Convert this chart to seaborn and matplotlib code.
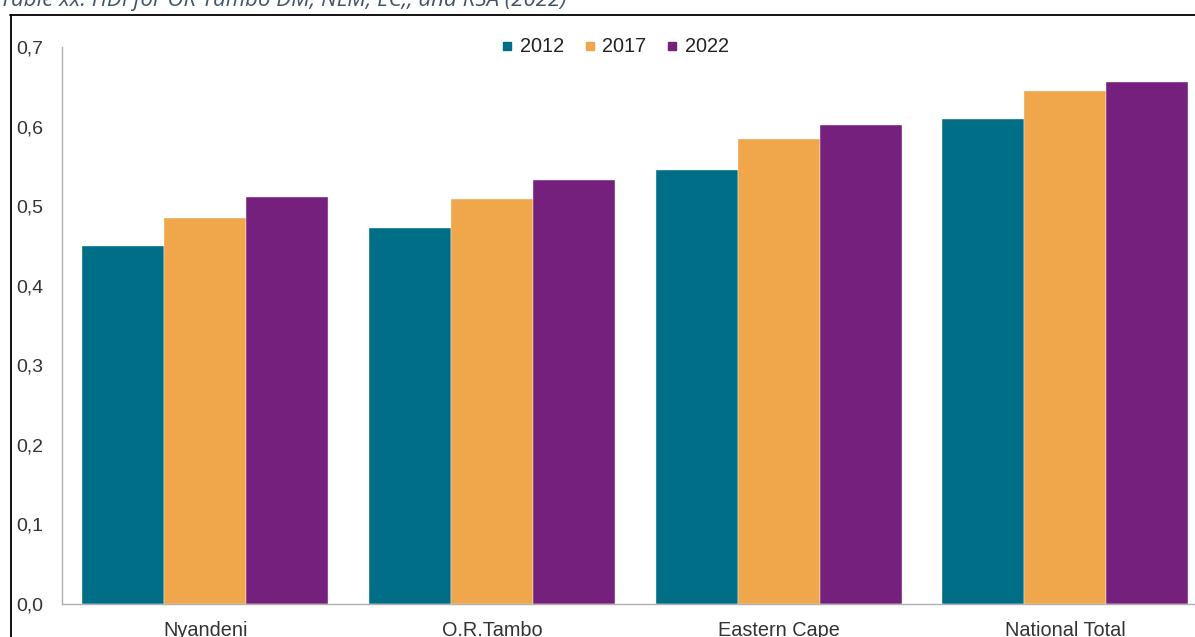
import matplotlib
matplotlib.use("Agg")
import matplotlib.pyplot as plt
from matplotlib.lines import Line2D
import seaborn as sns
import pandas as pd

# HDI values by area and year
areas = ["Nyandeni", "O.R.Tambo", "Eastern Cape", "National Total"]
years = ["2012", "2017", "2022"]
hdi_2012 = [0.450, 0.472, 0.546, 0.610]
hdi_2017 = [0.485, 0.509, 0.584, 0.645]
hdi_2022 = [0.511, 0.533, 0.602, 0.656]
y_ticks = [0.0, 0.1, 0.2, 0.3, 0.4, 0.5, 0.6, 0.7]
y_tick_labels = ["0,0", "0,1", "0,2", "0,3", "0,4", "0,5", "0,6", "0,7"]
title = "Table xx: HDI for OR Tambo DM, NLM, EC,, and RSA (2022)"

colors = ["#006E87", "#F0A64A", "#76207D"]

df = pd.DataFrame({
    "area": areas * 3,
    "year": [years[0]] * 4 + [years[1]] * 4 + [years[2]] * 4,
    "hdi": hdi_2012 + hdi_2017 + hdi_2022,
})

sns.set_theme(style="white")
plt.rcParams["font.family"] = ["Liberation Sans", "DejaVu Sans"]

W, H = 1195, 637
fig = plt.figure(figsize=(W / 100, H / 100), dpi=100)
ax = fig.add_axes([62 / W, (H - 604) / H, 1 - 62 / W, (604 - 47) / H])

sns.barplot(data=df, x="area", y="hdi", hue="year", order=areas,
            hue_order=years, palette=colors, width=0.858, gap=0,
            edgecolor="#f4f4f4", linewidth=0.3, saturation=1,
            legend=False, ax=ax)

ax.set_xlim(-0.5, 3.452)
ax.set_ylim(0, 0.7)
ax.set_yticks(y_ticks)
ax.set_yticklabels(y_tick_labels)
ax.set_xlabel("")
ax.set_ylabel("")
ax.tick_params(axis="y", length=0, pad=13.5, labelsize=14, labelcolor="#333333")
ax.tick_params(axis="x", length=0, pad=12.5, labelsize=14.3, labelcolor="#333333")

for side in ["top", "right"]:
    ax.spines[side].set_visible(False)
for side in ["left", "bottom"]:
    ax.spines[side].set_color("#B0B0B0")
    ax.spines[side].set_linewidth(1.0)

# Legend with small square keys
handles = [Line2D([0], [0], marker="s", linestyle="none", markersize=5.5,
                  markerfacecolor=c, markeredgecolor=c) for c in colors]
fig.legend(handles, years, loc="center", bbox_to_anchor=(615 / W, 1 - 47 / H),
           ncol=3, frameon=False, fontsize=14.3, handlelength=0.6,
           handletextpad=0.35, columnspacing=1.0, labelcolor="#222222")

# Caption above the frame
fig.text(0.0, 1 - 6 / H, title, ha="left", va="baseline", style="italic",
         fontsize=16, color="#44546A", family=["Open Sans", "DejaVu Sans"])

# Frame lines
fig.add_artist(Line2D([10 / W, 1.0], [1 - 14.5 / H, 1 - 14.5 / H],
                      transform=fig.transFigure, color="black", linewidth=1.3))
fig.add_artist(Line2D([10.5 / W, 10.5 / W], [0.0, 1 - 14.5 / H],
                      transform=fig.transFigure, color="black", linewidth=1.3))

fig.savefig("out.png", dpi=100, facecolor="white")
